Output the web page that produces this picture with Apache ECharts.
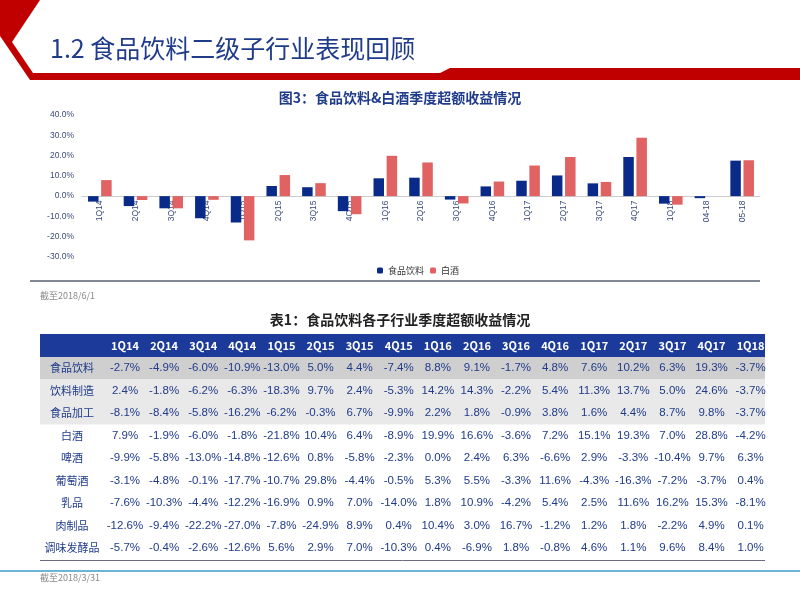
<!DOCTYPE html><html><head><meta charset="utf-8">
<script src="https://cdn.jsdelivr.net/npm/echarts@6/dist/echarts.min.js"></script>
<style>body{margin:0;background:#fff}#c{width:800px;height:600px}</style></head><body><div id="c"></div>
<script>
const categories=['1Q14','2Q14','3Q14','4Q14','1Q15','2Q15','3Q15','4Q15','1Q16','2Q16','3Q16','4Q16','1Q17','2Q17','3Q17','4Q17','1Q18','04-18','05-18'];
const foodBev=[-2.7,-4.9,-6.0,-10.9,-13.0,5.0,4.4,-7.4,8.8,9.1,-1.7,4.8,7.6,10.2,6.3,19.3,-3.7,-1.0,17.5];
const baijiu=[7.9,-1.9,-6.0,-1.8,-21.8,10.4,6.4,-8.9,19.9,16.6,-3.6,7.2,15.1,19.3,7.0,28.8,-4.2,0.0,17.7];
const tableCols=['1Q14','2Q14','3Q14','4Q14','1Q15','2Q15','3Q15','4Q15','1Q16','2Q16','3Q16','4Q16','1Q17','2Q17','3Q17','4Q17','1Q18'];
const rowNames=['食品饮料','饮料制造','食品加工','白酒','啤酒','葡萄酒','乳品','肉制品','调味发酵品'];
const r1=[-2.7,-4.9,-6.0,-10.9,-13.0,5.0,4.4,-7.4,8.8,9.1,-1.7,4.8,7.6,10.2,6.3,19.3,-3.7];
const r2=[2.4,-1.8,-6.2,-6.3,-18.3,9.7,2.4,-5.3,14.2,14.3,-2.2,5.4,11.3,13.7,5.0,24.6,-3.7];
const r3=[-8.1,-8.4,-5.8,-16.2,-6.2,-0.3,6.7,-9.9,2.2,1.8,-0.9,3.8,1.6,4.4,8.7,9.8,-3.7];
const r4=[7.9,-1.9,-6.0,-1.8,-21.8,10.4,6.4,-8.9,19.9,16.6,-3.6,7.2,15.1,19.3,7.0,28.8,-4.2];
const r5=[-9.9,-5.8,-13.0,-14.8,-12.6,0.8,-5.8,-2.3,0.0,2.4,6.3,-6.6,2.9,-3.3,-10.4,9.7,6.3];
const r6=[-3.1,-4.8,-0.1,-17.7,-10.7,29.8,-4.4,-0.5,5.3,5.5,-3.3,11.6,-4.3,-16.3,-7.2,-3.7,0.4];
const r7=[-7.6,-10.3,-4.4,-12.2,-16.9,0.9,7.0,-14.0,1.8,10.9,-4.2,5.4,2.5,11.6,16.2,15.3,-8.1];
const r8=[-12.6,-9.4,-22.2,-27.0,-7.8,-24.9,8.9,0.4,10.4,3.0,16.7,-1.2,1.2,1.8,-2.2,4.9,0.1];
const r9=[-5.7,-0.4,-2.6,-12.6,5.6,2.9,7.0,-10.3,0.4,-6.9,1.8,-0.8,4.6,1.1,9.6,8.4,1.0];
const rows=[r1,r2,r3,r4,r5,r6,r7,r8,r9];

const F='"Noto Sans CJK SC", sans-serif';
const TC='#1f3b8a';
const g=[];
g.push({type:'polygon',shape:{points:[[0,0],[40,0],[12,42],[33,73],[440,73],[450,68],[800,68],[800,80],[30,80],[0,36]]},style:{fill:'#c00000'}});
g.push({type:'text',left:50,top:36,style:{text:'1.2 食品饮料二级子行业表现回顾',font:'25px "Noto Sans CJK SC"',fill:'#1f3b8a'}});
g.push({type:'text',left:'center',top:91,style:{text:'图3：食品饮料&白酒季度超额收益情况',font:'bold 14px '+F,fill:'#1f3b8a'}});
g.push({type:'line',shape:{x1:30,y1:281,x2:760,y2:281},style:{stroke:'#5a6270',lineWidth:1.5}});
g.push({type:'text',left:40,top:291,style:{text:'截至2018/6/1',font:'9px '+F,fill:'#888'}});
g.push({type:'text',left:'center',top:313,style:{text:'表1：食品饮料各子行业季度超额收益情况',font:'bold 14px '+F,fill:'#222'}});
const tx0=40,tx1=765,hy=334,hh=23,rh=22.5,c0=125,cs=39.1;
g.push({type:'rect',shape:{x:tx0,y:hy,width:tx1-tx0,height:hh},style:{fill:'#1c3a9a'}});
tableCols.forEach((c,i)=>g.push({type:'text',x:c0+i*cs,y:hy+hh/2,style:{text:c,font:'bold 11px '+F,fill:'#fff',align:'center',verticalAlign:'middle'}}));
rows.forEach((r,j)=>{
  const y=hy+hh+j*rh;
  if(j<3) g.push({type:'rect',shape:{x:tx0,y:y,width:tx1-tx0,height:rh},style:{fill:j==0?'#cfcfcf':'#e9e9e9'}});
  g.push({type:'text',x:72,y:y+rh/2,style:{text:rowNames[j],font:'11px '+F,fill:TC,align:'center',verticalAlign:'middle'}});
  r.forEach((v,i)=>g.push({type:'text',x:c0+i*cs,y:y+rh/2,style:{text:v.toFixed(1)+'%',font:'11.5px "Liberation Sans"',fill:TC,align:'center',verticalAlign:'middle'}}));
});
const tb=hy+hh+rows.length*rh+1;
g.push({type:'line',shape:{x1:tx0,y1:tb,x2:tx1,y2:tb},style:{stroke:'#6a6a80',lineWidth:1}});
g.push({type:'line',shape:{x1:0,y1:571,x2:800,y2:571},style:{stroke:'#3a9cc8',lineWidth:1.5}});
g.push({type:'text',left:40,top:573,style:{text:'截至2018/3/31',font:'9px '+F,fill:'#888'}});

const chart=echarts.init(document.getElementById('c'));
chart.setOption({
  animation:false,
  graphic:g,
  legend:{left:372,top:261,itemWidth:6,itemHeight:6,itemGap:6,textStyle:{fontSize:9,color:'#333',fontFamily:F},data:['食品饮料','白酒']},
  grid:[{left:82,right:40,top:115,bottom:343},{left:82,right:40,top:115,height:81.5}],
  xAxis:[{type:'category',data:categories,axisTick:{show:false},axisLine:{lineStyle:{color:'#ccc'}},axisLabel:{show:false}},
    {type:'category',gridIndex:1,data:categories,axisTick:{show:false},axisLine:{show:false},
    axisLabel:{rotate:90,fontSize:8.5,color:'#3a4a7a',interval:0,margin:4}}],
  yAxis:[{type:'value',min:-30,max:40,interval:10,splitLine:{show:false},axisLine:{show:false},
    axisLabel:{formatter:v=>v.toFixed(1)+'%',fontSize:8.5,color:'#3a4a7a'}},
    {type:'value',gridIndex:1,show:false,min:0,max:40}],
  series:[
    {name:'食品饮料',type:'bar',data:foodBev,itemStyle:{color:'#0a2a8a'},barWidth:10.5,barGap:'25%'},
    {name:'白酒',type:'bar',data:baijiu,itemStyle:{color:'#e06262'},barWidth:10.5}
  ]
});
</script></body></html>
